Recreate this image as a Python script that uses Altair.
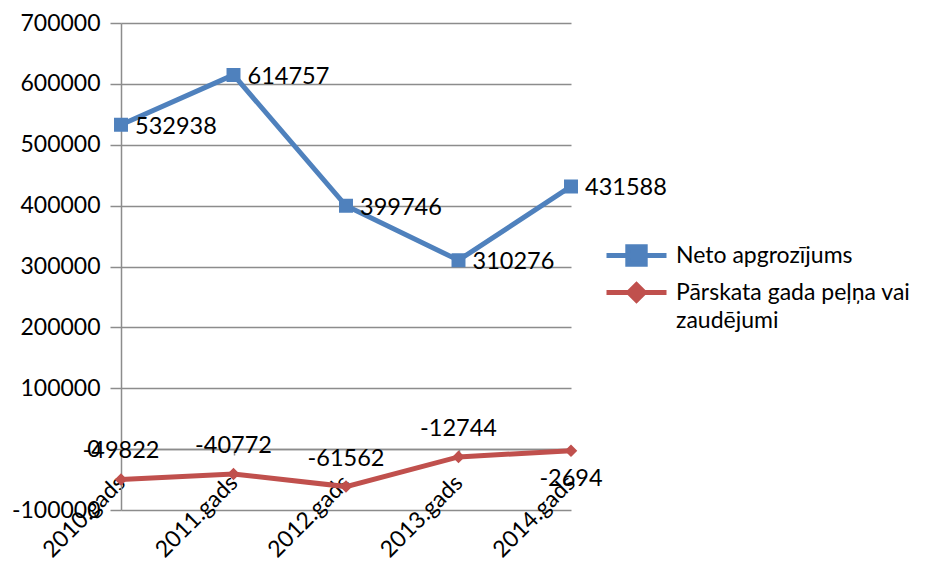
import altair as alt
import pandas as pd

# Yearly figures (EUR)
years = ["2010.gads", "2011.gads", "2012.gads", "2013.gads", "2014.gads"]
neto_apgrozijums = [532938, 614757, 399746, 310276, 431588]
pelna_zaudejumi = [-49822, -40772, -61562, -12744, -2694]

series_names = ["Neto apgrozījums", "Pārskata gada peļņa vai zaudējumi"]
series_colors = ["#4F81BD", "#C0504D"]
y_ticks = [-100000, 0, 100000, 200000, 300000, 400000, 500000, 600000, 700000]

# Marker shapes: a filled marker plus a zero-area horizontal stroke that only
# shows up in the legend (where the symbols are stroked).
square_path = "M-2,0H2M-0.58,-0.58H0.58V0.58H-0.58Z"
diamond_path = "M-2,0H2M0,-0.52L0.52,0L0,0.52L-0.52,0Z"

rows = []
for name, values in zip(series_names, [neto_apgrozijums, pelna_zaudejumi]):
    for year, v in zip(years, values):
        rows.append({"gads": year, "rādītājs": name, "vērtība": v})
df = pd.DataFrame(rows)

FONT = "Lato"
GRID = "#8C8C8C"

# category axis sits on the zero line, labels rotated below it
x_enc = alt.X(
    "gads:N",
    sort=years,
    scale=alt.Scale(type="point", padding=0),
    axis=alt.Axis(
        title=None, offset=-61, labelAngle=-45, labelAlign="right",
        labelBaseline="middle", labelPadding=24, labelFontSize=23,
        labelColor="black", labelFont=FONT, tickSize=6, tickColor=GRID,
        tickWidth=1.5, domainColor=GRID, domainWidth=1.5, grid=False,
    ),
)
y_enc = alt.Y(
    "vērtība:Q",
    scale=alt.Scale(domain=[-100000, 700000], nice=False, zero=False),
    axis=alt.Axis(
        title=None, values=y_ticks, labelExpr="'' + datum.value",
        labelFontSize=23, labelColor="black", labelFont=FONT, labelPadding=10,
        tickSize=11, tickColor=GRID, tickWidth=1.5, domainColor=GRID,
        domainWidth=1.5, grid=True, gridColor=GRID, gridWidth=1.5,
    ),
)

# the long series name is wrapped onto two lines in the legend
label_expr = (
    "datum.label == '" + series_names[1] + "' ? "
    "['Pārskata gada peļņa vai', 'zaudējumi'] : datum.label"
)

legend = alt.Legend(
    title=None, orient="none", legendX=498, legendY=215, padding=0,
    labelFont=FONT, labelFontSize=23, labelColor="black", labelLimit=400,
    labelOffset=22, labelExpr=label_expr, symbolSize=900,
    symbolStrokeWidth=5, rowPadding=-4,
)

scale_c = alt.Scale(domain=series_names, range=series_colors)
stroke_enc = alt.Stroke("rādītājs:N", sort=series_names, scale=scale_c, legend=legend)
color_enc = alt.Color("rādītājs:N", sort=series_names, scale=scale_c, legend=legend)
shape_enc = alt.Shape(
    "rādītājs:N", sort=series_names,
    scale=alt.Scale(domain=series_names, range=[square_path, diamond_path]),
    legend=legend,
)

base = alt.Chart(df).encode(x=x_enc, y=y_enc)
lines = base.mark_line(strokeWidth=5).encode(stroke=stroke_enc)
points = base.mark_point(filled=True, size=580, opacity=1).encode(
    color=color_enc, shape=shape_enc
)

# value labels: to the right for turnover, above/below for profit or loss
text_style = dict(font=FONT, fontSize=23.5, color="black")
labelled = base.transform_calculate(etikete="'' + datum['vērtība']")
blue_labels = (
    labelled.transform_filter(alt.datum["rādītājs"] == series_names[0])
    .mark_text(align="left", baseline="middle", dx=14, dy=2, **text_style)
    .encode(text="etikete:N")
)
red_labels_above = (
    labelled.transform_filter(
        (alt.datum["rādītājs"] == series_names[1]) & (alt.datum["gads"] != years[-1])
    )
    .mark_text(align="center", baseline="middle", dy=-28, **text_style)
    .encode(text="etikete:N")
)
red_labels_below = (
    labelled.transform_filter(
        (alt.datum["rādītājs"] == series_names[1]) & (alt.datum["gads"] == years[-1])
    )
    .mark_text(align="center", baseline="middle", dy=28, **text_style)
    .encode(text="etikete:N")
)

chart = (
    alt.layer(lines, points, blue_labels, red_labels_above, red_labels_below)
    .properties(
        width=450, height=487,
        autosize=alt.AutoSizeParams(type="none"),
        padding={"left": 121, "top": 23, "right": 355, "bottom": 53},
    )
    .configure(font=FONT, background="white", style={"guide-label": {"lineHeight": 28}})
    .configure_view(stroke=None)
    .configure_axisX(grid=False)
)

chart.save("out.html", embed_options={"renderer": "svg", "actions": False})
